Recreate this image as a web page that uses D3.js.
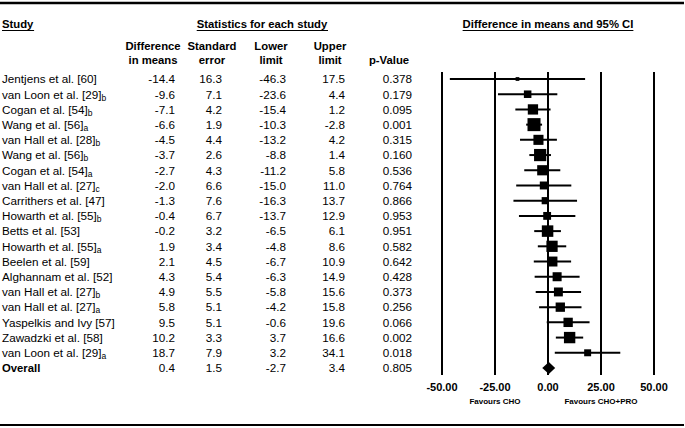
<!DOCTYPE html>
<html><head><meta charset="utf-8">
<script src="https://cdn.jsdelivr.net/npm/d3@7"></script>
<style>body{margin:0;background:#fff}svg{display:block}text{font-family:"Liberation Sans",Arial,sans-serif;fill:#000}</style>
</head><body>
<svg id="c" width="685" height="428"></svg>
<script>
const studies = ["Jentjens et al. [60]","van Loon et al. [29]","Cogan et al. [54]","Wang et al. [56]","van Hall et al. [28]","Wang et al. [56]","Cogan et al. [54]","van Hall et al. [27]","Carrithers et al. [47]","Howarth et al. [55]","Betts et al. [53]","Howarth et al. [55]","Beelen et al. [59]","Alghannam et al. [52]","van Hall et al. [27]","van Hall et al. [27]","Yaspelkis and Ivy [57]","Zawadzki et al. [58]","van Loon et al. [29]"];
const subs = ["","b","b","a","b","b","a","c","","b","","a","","","b","a","","","a"];
const diffs = [-14.4,-9.6,-7.1,-6.6,-4.5,-3.7,-2.7,-2.0,-1.3,-0.4,-0.2,1.9,2.1,4.3,4.9,5.8,9.5,10.2,18.7];
const ses = [16.3,7.1,4.2,1.9,4.4,2.6,4.3,6.6,7.6,6.7,3.2,3.4,4.5,5.4,5.5,5.1,5.1,3.3,7.9];
const lowers = [-46.3,-23.6,-15.4,-10.3,-13.2,-8.8,-11.2,-15.0,-16.3,-13.7,-6.5,-4.8,-6.7,-6.3,-5.8,-4.2,-0.6,3.7,3.2];
const uppers = [17.5,4.4,1.2,-2.8,4.2,1.4,5.8,11.0,13.7,12.9,6.1,8.6,10.9,14.9,15.6,15.8,19.6,16.6,34.1];
const pvals = [0.378,0.179,0.095,0.001,0.315,0.160,0.536,0.764,0.866,0.953,0.951,0.582,0.642,0.428,0.373,0.256,0.066,0.002,0.018];
const overall = {label:"Overall", diff:0.4, se:1.5, lower:-2.7, upper:3.4, p:0.805};
const xTicks = [-50,-25,0,25,50];
const favourLabels = ["Favours CHO","Favours CHO+PRO"];

const svg = d3.select("#c");
const rowCount = studies.length + 1;
const y = d3.scaleLinear().domain([0, rowCount-1]).range([79, 368]);
const x = d3.scaleLinear().domain([-50,50]).range([442,654]);
const hy = s => s.replace(/\u2212/g,"-");
const f1 = v => hy(d3.format(".1f")(v)), f3 = v => hy(d3.format(".3f")(v)), f2 = v => hy(d3.format(".2f")(v));
const FS = 11.7, FB = 11.3;

// borders
svg.append("line").attr("x1",0).attr("x2",684).attr("y1",3).attr("y2",3).attr("stroke","#000").attr("stroke-width",2.5);
svg.append("line").attr("x1",0).attr("x2",684).attr("y1",425).attr("y2",425).attr("stroke","#000").attr("stroke-width",2);

// section titles, underlined
function uTitle(txt, cx, anchor){
  const t = svg.append("text").attr("x",cx).attr("y",28).attr("text-anchor",anchor)
    .attr("font-size",FB).attr("font-weight","bold").text(txt);
  const b = t.node().getBBox();
  svg.append("line").attr("x1",b.x).attr("x2",b.x+b.width).attr("y1",30.5).attr("y2",30.5)
    .attr("stroke","#000").attr("stroke-width",1);
}
uTitle("Study",2,"start");
uTitle("Statistics for each study",262,"middle");
uTitle("Difference in means and 95% CI",548,"middle");

// column headers
const cols = [
  {h:["Difference","in means"], hc:153, rx:175},
  {h:["Standard","error"], hc:212, rx:222},
  {h:["Lower","limit"], hc:271, rx:286},
  {h:["Upper","limit"], hc:330, rx:345},
  {h:["","p-Value"], hc:389, rx:412}
];
cols.forEach(c=>{
  c.h.forEach((s,i)=>{ if(s) svg.append("text").attr("x",c.hc).attr("y",50+i*14).attr("text-anchor","middle")
    .attr("font-size",FB).attr("font-weight","bold").text(s); });
});

// rows
const rows = studies.map((s,i)=>({name:s, sub:subs[i], vals:[f1(diffs[i]),f1(ses[i]),f1(lowers[i]),f1(uppers[i]),f3(pvals[i])], diff:diffs[i], se:ses[i], lo:lowers[i], hi:uppers[i]}));
rows.forEach((r,i)=>{
  const yy = y(i)+4.3;
  const t = svg.append("text").attr("x",2).attr("y",yy).attr("font-size",FS);
  t.append("tspan").text(r.name);
  if(r.sub) t.append("tspan").attr("font-size",8.5).attr("dy",2).text(r.sub);
  r.vals.forEach((v,j)=> svg.append("text").attr("x",cols[j].rx).attr("y",yy).attr("text-anchor","end").attr("font-size",FS).text(v));
});
const oy = y(rowCount-1)+4.3;
svg.append("text").attr("x",2).attr("y",oy).attr("font-size",FB).attr("font-weight","bold").text(overall.label);
[f1(overall.diff),f1(overall.se),f1(overall.lower),f1(overall.upper),f3(overall.p)].forEach((v,j)=>
  svg.append("text").attr("x",cols[j].rx).attr("y",oy).attr("text-anchor","end").attr("font-size",FS).text(v));

// grid verticals
svg.selectAll(".vl").data(xTicks).join("line").attr("x1",d=>x(d)).attr("x2",d=>x(d))
  .attr("y1",72).attr("y2",375).attr("stroke","#000").attr("stroke-width",2);
svg.selectAll(".tl").data(xTicks).join("text").attr("x",d=>x(d)).attr("y",391).attr("text-anchor","middle")
  .attr("font-size",11).attr("font-weight","bold").text(d=>f2(d));
svg.append("text").attr("x",x(-25)).attr("y",404).attr("text-anchor","middle").attr("font-size",8).attr("font-weight","bold").text(favourLabels[0]);
svg.append("text").attr("x",x(25)).attr("y",404).attr("text-anchor","middle").attr("font-size",8).attr("font-weight","bold").text(favourLabels[1]);

// CI lines + squares (size by random-effects weight)
const size = se => 63.2/Math.sqrt(se*se+20);
rows.forEach((r,i)=>{
  svg.append("line").attr("x1",x(r.lo)).attr("x2",x(r.hi)).attr("y1",y(i)).attr("y2",y(i)).attr("stroke","#000").attr("stroke-width",2);
  const s = size(r.se);
  svg.append("rect").attr("x",x(r.diff)-s/2).attr("y",y(i)-s/2).attr("width",s).attr("height",s).attr("fill","#000");
});
// diamond
const dy0 = y(rowCount-1);
svg.append("path").attr("d",`M${x(overall.lower)},${dy0}L${x(overall.diff)},${dy0-6}L${x(overall.upper)},${dy0}L${x(overall.diff)},${dy0+6}Z`).attr("fill","#000");
</script>
</body></html>
